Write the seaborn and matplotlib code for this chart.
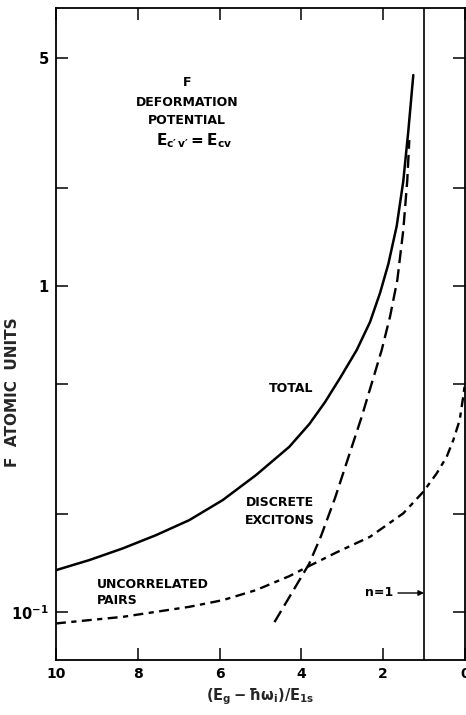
import numpy as np
import pandas as pd
import matplotlib
matplotlib.use("Agg")
import matplotlib.pyplot as plt
from matplotlib.ticker import FixedLocator, FixedFormatter, NullLocator
import seaborn as sns

# ---- data ----
total_x = [10.0, 9.186, 8.369, 7.555, 6.741, 5.924, 5.110, 4.296, 3.807, 3.423,
           3.056, 2.648, 2.323, 2.078, 1.875, 1.670, 1.509, 1.386, 1.264]
total_y = [0.1345, 0.1444, 0.1568, 0.1722, 0.1915, 0.2206, 0.2632, 0.3214, 0.3773, 0.4406,
           0.5222, 0.6364, 0.7755, 0.9518, 1.168, 1.528, 2.099, 2.989, 4.439]

discrete_x = [4.658, 4.291, 3.814, 3.521, 3.178, 2.526, 2.281, 2.037, 1.834, 1.655,
              1.509, 1.411, 1.362]
discrete_y = [0.0932, 0.1114, 0.1404, 0.1710, 0.2238, 0.3973, 0.5030, 0.6364, 0.8050, 1.043,
              1.485, 2.114, 2.805]

pairs_x = [10.0, 9.186, 8.369, 7.555, 6.741, 5.924, 5.110, 4.296, 3.839, 3.154,
           2.323, 1.509, 1.020, 0.692, 0.448, 0.286, 0.130, 0.049, 0.0]
pairs_y = [0.0923, 0.0945, 0.0967, 0.1002, 0.1038, 0.1088, 0.1168, 0.1289, 0.1379, 0.1522,
           0.1702, 0.2009, 0.2339, 0.2664, 0.2995, 0.3370, 0.3881, 0.4533, 0.5040]

x_ticks = [10, 8, 6, 4, 2, 0]
x_tick_labels = ["10", "8", "6", "4", "2", "0"]
y_ticks = [0.1, 0.2, 0.5, 1, 2, 5]
y_tick_labels = [r"$10^{-1}$", "", "", "1", "", "5"]
n1_position = 1.0

sns.set_style("ticks")
plt.rcParams["font.family"] = ["DejaVu Sans"]
plt.rcParams["font.weight"] = "bold"
plt.rcParams["mathtext.default"] = "regular"

fig = plt.figure(figsize=(4.66, 7.15), dpi=100)
ax = fig.add_axes([56 / 466, 55 / 715, 409 / 466, 652 / 715])

df_total = pd.DataFrame({"x": total_x, "y": total_y})
df_disc = pd.DataFrame({"x": discrete_x, "y": discrete_y})
df_pairs = pd.DataFrame({"x": pairs_x, "y": pairs_y})

sns.lineplot(data=df_total, x="x", y="y", ax=ax, color="black", lw=1.8,
             sort=False, estimator=None)
sns.lineplot(data=df_disc, x="x", y="y", ax=ax, color="black", lw=1.7,
             linestyle=(0, (5.5, 2.6)), sort=False, estimator=None)
sns.lineplot(data=df_pairs, x="x", y="y", ax=ax, color="black", lw=1.7,
             linestyle=(0, (4.2, 2.3, 2.2, 2.3)), sort=False, estimator=None)

ax.axvline(n1_position, color="black", lw=1.2)

ax.set_yscale("log")
ax.set_xlim(10, 0)
ax.set_ylim(0.0713, 7.13)
ax.yaxis.set_major_locator(FixedLocator(y_ticks))
ax.yaxis.set_major_formatter(FixedFormatter(y_tick_labels))
ax.yaxis.set_minor_locator(NullLocator())
ax.xaxis.set_major_locator(FixedLocator(x_ticks))
ax.xaxis.set_major_formatter(FixedFormatter(x_tick_labels))
ax.xaxis.set_minor_locator(NullLocator())

ax.tick_params(axis="both", which="major", direction="in", length=8.5, width=1.1,
               top=True, right=True, colors="black")
ax.tick_params(axis="y", labelsize=10.5, pad=5)
ax.tick_params(axis="x", labelsize=10, pad=5)
for s in ax.spines.values():
    s.set_linewidth(1.3)
    s.set_color("black")

ax.set_xlabel(r"$(E_g - \hbar\omega_i)/E_{1s}$", fontsize=10.5, fontweight="bold", labelpad=4)
ax.set_ylabel("F  ATOMIC  UNITS", fontsize=11, fontweight="bold")
ax.yaxis.set_label_coords((20 - 56) / 409, (660 - 392) / 652)


def px(xp, yp):
    return ((xp - 56) / 409, (660 - yp) / 652)


tk = dict(transform=ax.transAxes, fontsize=9, fontweight="bold", color="black")
ax.text(*px(187, 82), "F", ha="center", va="center", **tk)
ax.text(*px(187, 102), "DEFORMATION", ha="center", va="center", **tk)
ax.text(*px(187, 120), "POTENTIAL", ha="center", va="center", **tk)
ax.text(*px(194, 141), "$E_{c\u2032\\,v\u2032} = E_{cv}$", ha="center", va="center",
        transform=ax.transAxes, fontsize=11, fontweight="bold", color="black")
ax.text(*px(291, 389), "TOTAL", ha="center", va="center", **tk)
ax.text(*px(280, 503), "DISCRETE", ha="center", va="center", **tk)
ax.text(*px(280, 520), "EXCITONS", ha="center", va="center", **tk)
ax.text(*px(97, 584), "UNCORRELATED", ha="left", va="center", **tk)
ax.text(*px(97, 601), "PAIRS", ha="left", va="center", **tk)
ax.text(*px(393, 593), "n=1", ha="right", va="center", **tk)
ax.annotate("", xy=px(424, 593), xytext=px(398, 593), xycoords="axes fraction",
            textcoords="axes fraction",
            arrowprops=dict(arrowstyle="-|>", color="black", lw=1.0,
                            mutation_scale=8, shrinkA=0, shrinkB=0))

fig.savefig("out.png", dpi=100)
